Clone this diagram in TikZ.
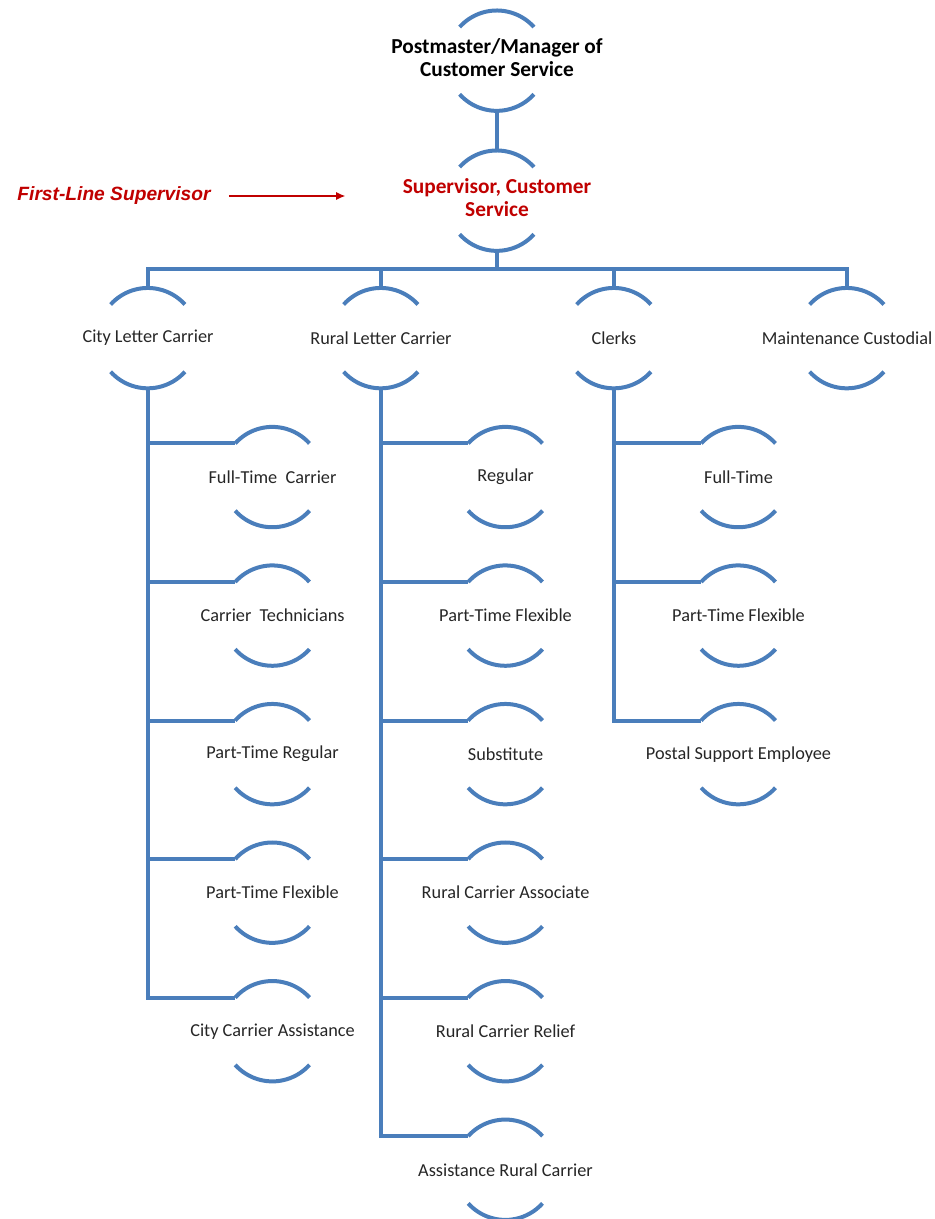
\documentclass[tikz,border=0pt]{standalone}
\usepackage{fontspec}
\setmainfont{Carlito}
\newfontfamily\notefont{Liberation Sans}
\usetikzlibrary{positioning}
\usetikzlibrary{arrows.meta}
\definecolor{orgblue}{RGB}{74,126,187}
\definecolor{orgred}{RGB}{192,0,0}
\tikzset{ol/.style={draw=orgblue,line width=3pt}}
\tikzset{role/.style={circle,minimum size=75pt,inner sep=0pt,text=black!85,
font=\fontsize{13.7}{16}\selectfont,
execute at begin node={\hbox to 0pt\bgroup\hss},
execute at end node={\hss\egroup}}}
\tikzset{head/.style={role,text=black,font=\bfseries\fontsize{16}{17}\selectfont}}
\tikzset{ma/.style={-{Latex[length=7pt,width=6pt]},draw=orgred,line width=1.2pt}}
\newcommand{\rolearcs}[1]{\draw[ol] (#1.138) arc[start angle=138,end angle=42,radius=37.5pt]
(#1.222) arc[start angle=222,end angle=318,radius=37.5pt];}

\begin{document}
\begin{tikzpicture}
\useasboundingbox (0,0) rectangle (700.5pt,-914.25pt);
\node [head] (pm) at (372.75pt,-45.5pt) {\begin{tabular}{@{}c@{}}Postmaster/Manager of\\Customer
Service\end{tabular}};
\node [head, text=orgred, below=105pt of pm.center, anchor=center] (sv)
{\begin{tabular}{@{}c@{}}Supervisor, Customer\\Service\end{tabular}};
\coordinate [below=13.5pt of sv.south] (bus);

\node [text=orgred, inner sep=0pt, font=\notefont\bfseries\itshape\fontsize{14.4}{16}\selectfont] (fl)
at (85.5pt,-147pt) {First-Line Supervisor};
\coordinate [right=101pt of fl.east] (fa);

\node [role, below left=103.1pt and 261.75pt of sv.center, anchor=center] (lc) {City Letter Carrier};
\node [role, right=174.75pt of lc.center, anchor=center] (lr) {Rural Letter Carrier};
\node [role, right=174.75pt of lr.center, anchor=center] (lk) {Clerks};
\node [role, right=174.75pt of lk.center, anchor=center] (lm) {Maintenance Custodial};

\node [role, below right=104.2pt and 93.4pt of lc.center, anchor=center] (c1) {Full-Time\ \ Carrier};
\node [role, below=103.9pt of c1.center, anchor=center] (c2) {Carrier\ \ Technicians};
\node [role, below=103.9pt of c2.center, anchor=center] (c3) {Part-Time Regular};
\node [role, below=103.9pt of c3.center, anchor=center] (c4) {Part-Time Flexible};
\node [role, below=103.9pt of c4.center, anchor=center] (c5) {City Carrier Assistance};

\node [role, below right=104.2pt and 93.4pt of lr.center, anchor=center] (r1) {Regular};
\node [role, below=103.9pt of r1.center, anchor=center] (r2) {Part-Time Flexible};
\node [role, below=103.9pt of r2.center, anchor=center] (r3) {Substitute};
\node [role, below=103.9pt of r3.center, anchor=center] (r4) {Rural Carrier Associate};
\node [role, below=103.9pt of r4.center, anchor=center] (r5) {Rural Carrier Relief};
\node [role, below=103.9pt of r5.center, anchor=center] (r6) {Assistance Rural Carrier};

\node [role, below right=104.2pt and 93.4pt of lk.center, anchor=center] (k1) {Full-Time};
\node [role, below=103.9pt of k1.center, anchor=center] (k2) {Part-Time Flexible};
\node [role, below=103.9pt of k2.center, anchor=center] (k3) {Postal Support Employee};

\rolearcs{pm} \rolearcs{sv}
\rolearcs{lc} \rolearcs{lr} \rolearcs{lk} \rolearcs{lm}
\rolearcs{c1} \rolearcs{c2} \rolearcs{c3} \rolearcs{c4} \rolearcs{c5}
\rolearcs{r1} \rolearcs{r2} \rolearcs{r3} \rolearcs{r4} \rolearcs{r5} \rolearcs{r6}
\rolearcs{k1} \rolearcs{k2} \rolearcs{k3}

\draw [ma, shorten <=13.5pt] (fl.east) -- (fa);
\draw [ol] (pm.south) -- (sv.north);
\draw [ol] (sv.south) -- (bus);
\draw [ol] (lc.north) |- (bus) -| (lm.north);
\draw [ol] (lr.north) -- (lr.north |- bus);
\draw [ol] (lk.north) -- (lk.north |- bus);

\draw [ol] (lc.south) |- (c1.138);
\draw [ol] (lc.south) |- (c2.138);
\draw [ol] (lc.south) |- (c3.138);
\draw [ol] (lc.south) |- (c4.138);
\draw [ol] (lc.south) |- (c5.138);

\draw [ol] (lr.south) |- (r1.138);
\draw [ol] (lr.south) |- (r2.138);
\draw [ol] (lr.south) |- (r3.138);
\draw [ol] (lr.south) |- (r4.138);
\draw [ol] (lr.south) |- (r5.138);
\draw [ol] (lr.south) |- (r6.138);

\draw [ol] (lk.south) |- (k1.138);
\draw [ol] (lk.south) |- (k2.138);
\draw [ol] (lk.south) |- (k3.138);
\end{tikzpicture}
\end{document}
